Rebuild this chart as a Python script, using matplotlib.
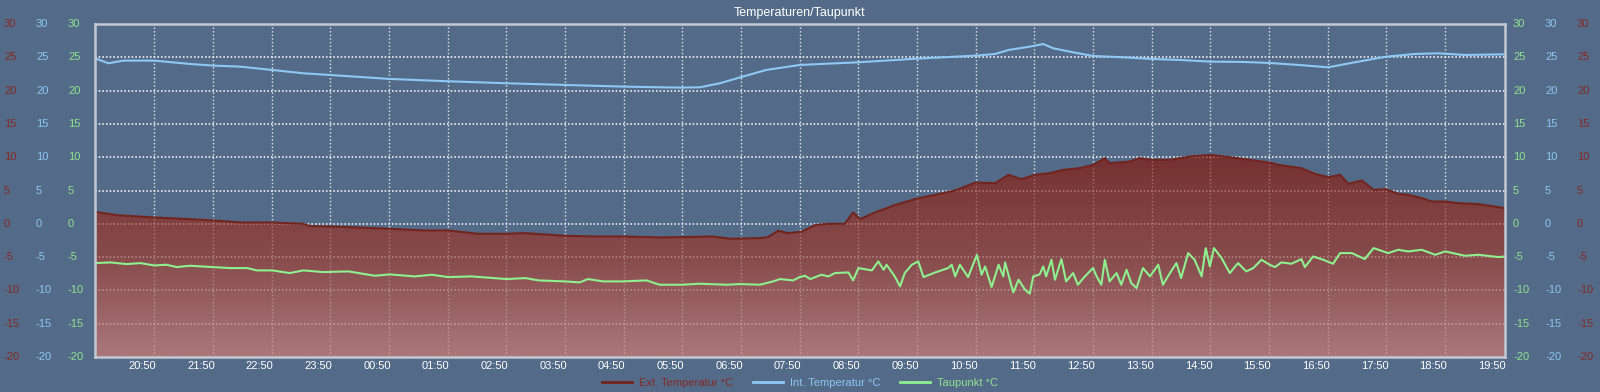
import numpy as np
import matplotlib
matplotlib.use("Agg")
import matplotlib.pyplot as plt
import matplotlib.transforms as mtransforms
from matplotlib.colors import LinearSegmentedColormap, Normalize
from matplotlib.lines import Line2D

# --- data (hours after chart start ~19:49) ---
x_labels = ["20:50", "21:50", "22:50", "23:50", "00:50", "01:50", "02:50", "03:50",
            "04:50", "05:50", "06:50", "07:50", "08:50", "09:50", "10:50", "11:50",
            "12:50", "13:50", "14:50", "15:50", "16:50", "17:50", "18:50", "19:50"]
x_ticks = [1.01 + k for k in range(len(x_labels))]

# Ext. Temperatur
t_ext = [0.0, 0.37, 1.01, 1.62, 2.02, 2.47, 3.02, 3.55, 3.66, 4.0, 4.77, 5.02, 5.62, 6.02,
         6.53, 7.02, 7.33, 8.01, 8.49, 9.0, 9.62, 10.0, 10.53, 10.82, 11.33, 11.47, 11.64,
         11.81, 12.04, 12.27, 12.5, 12.78, 12.92, 13.04, 13.29, 13.63, 14.01, 14.32, 14.66,
         15.01, 15.34, 15.57, 15.79, 16.02, 16.27, 16.5, 16.78, 17.01, 17.21, 17.29, 17.63,
         17.8, 18.02, 18.32, 18.66, 19.01, 19.34, 19.68, 20.02, 20.17, 20.56, 20.79, 21.02,
         21.22, 21.36, 21.59, 21.79, 21.99, 22.21, 22.38, 22.61, 22.78, 23.01, 23.24, 23.58,
         24.03]
v_ext = [1.8, 1.3, 0.95, 0.7, 0.5, 0.2, 0.2, 0.0, -0.35, -0.4, -0.65, -0.75, -1.0, -1.0,
         -1.5, -1.5, -1.4, -1.8, -1.9, -1.9, -2.05, -2.0, -1.9, -2.25, -2.15, -2.0, -1.05,
         -1.4, -1.2, -0.2, 0.0, 0.0, 1.7, 0.7, 1.7, 2.8, 3.8, 4.35, 5.0,
         6.2, 6.1, 7.35, 6.7, 7.35, 7.6, 8.1, 8.35, 8.85, 9.85, 9.1, 9.35,
         9.85, 9.6, 9.6, 10.1, 10.35, 10.0, 9.6, 9.2, 8.85, 8.35, 7.5, 7.0,
         7.35, 6.0, 6.5, 5.1, 5.2, 4.5, 4.35, 3.85, 3.35, 3.35, 3.1, 2.95,
         2.35]

# Int. Temperatur
t_int = [0.0, 0.23, 0.48, 1.01, 1.62, 2.02, 2.47, 3.02, 3.55, 4.0, 5.02, 6.02, 7.02, 8.01,
         9.0, 9.62, 10.0, 10.31, 10.65, 11.0, 11.44, 12.01, 13.01, 14.01, 15.01, 15.34,
         15.57, 15.93, 16.16, 16.33, 16.67, 17.01, 17.52, 18.02, 18.49, 19.01, 19.57, 20.02,
         20.51, 21.02, 21.53, 22.01, 22.5, 22.89, 23.35, 24.03]
v_int = [24.85, 24.1, 24.5, 24.5, 24.0, 23.75, 23.6, 23.1, 22.6, 22.35, 21.75, 21.4, 21.1, 20.85,
         20.6, 20.5, 20.45, 20.5, 21.1, 22.0, 23.1, 23.85, 24.25, 24.8, 25.25, 25.5,
         26.1, 26.6, 27.0, 26.35, 25.75, 25.2, 25.0, 24.75, 24.6, 24.35, 24.3, 24.15,
         23.85, 23.5, 24.35, 25.1, 25.5, 25.6, 25.35, 25.45]

# Taupunkt
t_dew = [0.0, 0.26, 0.54, 0.77, 1.01, 1.22, 1.39, 1.62, 2.02, 2.3, 2.59, 2.76, 3.02, 3.32,
         3.55, 3.89, 4.32, 4.77, 5.02, 5.45, 5.74, 6.02, 6.42, 7.02, 7.33, 7.56, 8.01, 8.26,
         8.4, 8.66, 9.0, 9.4, 9.62, 10.0, 10.31, 10.76, 11.0, 11.33, 11.56, 11.67, 11.9,
         12.01, 12.1, 12.19, 12.38, 12.5, 12.61, 12.84, 12.92, 13.01, 13.24, 13.35, 13.44,
         13.49, 13.63, 13.72, 13.8, 13.92, 14.03, 14.12, 14.32, 14.54, 14.6, 14.66, 14.74,
         14.88, 15.03, 15.11, 15.17, 15.28, 15.4, 15.48, 15.51, 15.65, 15.74, 15.85, 15.93,
         15.99, 16.1, 16.16, 16.21, 16.3, 16.36, 16.47, 16.55, 16.67, 16.75, 16.87, 17.01,
         17.07, 17.15, 17.21, 17.29, 17.41, 17.49, 17.58, 17.66, 17.75, 17.86, 17.98, 18.12,
         18.2, 18.32, 18.43, 18.51, 18.63, 18.74, 18.86, 18.93, 19.0, 19.07, 19.2, 19.34,
         19.48, 19.62, 19.74, 19.88, 20.02, 20.11, 20.22, 20.39, 20.56, 20.62, 20.76, 20.93,
         21.1, 21.22, 21.42, 21.64, 21.79, 22.04, 22.21, 22.38, 22.61, 22.84, 23.01, 23.35,
         23.58, 23.92, 24.03]
v_dew = [-5.9, -5.8, -6.05, -5.9, -6.25, -6.15, -6.5, -6.3, -6.5, -6.65, -6.65, -7.0, -7.0, -7.4,
         -7.0, -7.25, -7.15, -7.8, -7.6, -7.9, -7.65, -8.0, -7.9, -8.3, -8.15, -8.5, -8.65, -8.8,
         -8.3, -8.65, -8.65, -8.5, -9.15, -9.15, -9.0, -9.15, -9.05, -9.15, -8.65, -8.3, -8.5,
         -8.0, -7.8, -8.3, -7.65, -7.9, -7.4, -7.3, -8.5, -6.65, -7.0, -5.65, -6.9,
         -6.15, -7.9, -9.4, -7.4, -6.15, -5.65, -8.0, -7.3, -6.65, -6.15, -7.9, -6.15,
         -8.0, -4.65, -7.65, -6.4, -9.5, -6.15, -7.9, -5.8, -10.3, -8.4, -9.9, -10.5,
         -7.9, -7.6, -6.4, -7.9, -5.4, -8.4, -5.3, -8.65, -7.4, -9.15, -7.9, -6.65,
         -7.9, -9.15, -5.4, -8.65, -7.4, -9.15, -6.9, -8.9, -9.65, -6.65, -7.9, -6.15,
         -9.15, -7.4, -5.9, -8.15, -4.4, -5.4, -7.9, -3.65, -6.4, -3.65, -5.15, -7.4,
         -5.9, -7.15, -6.65, -5.4, -6.15, -6.5, -5.8, -6.0, -5.3, -6.5, -4.9, -5.4,
         -6.0, -4.4, -4.4, -5.3, -3.65, -4.4, -3.9, -4.15, -3.9, -4.65, -4.15, -4.8,
         -4.65, -5.0, -4.9]

y_ticks = list(range(-20, 35, 5))

BG = "#536b88"
RED = "#72251f"
BLUE = "#8ec8f4"
GREEN = "#8ff08f"
RED_TXT = "#842a26"
BLUE_TXT = "#8cc6f0"
GREEN_TXT = "#8fe28f"

plt.rcParams["font.family"] = ["Liberation Sans", "DejaVu Sans"]

fig = plt.figure(figsize=(16, 3.92), dpi=100, facecolor=BG)
ax = fig.add_axes([95 / 1600, 1 - 357 / 392, 1410 / 1600, 333 / 392], facecolor=BG)
ax.set_xlim(0, 24.03)
ax.set_ylim(-20, 30)

# grid: full strength under the fill, faint copy over it
for z, a in [(0.5, 0.9), (1.5, 0.28)]:
    for y in y_ticks[1:-1]:
        ax.axhline(y, color="white", lw=1.1, ls=(0, (1, 1.4)), alpha=a, zorder=z)
    for x in x_ticks[:-1]:
        ax.axvline(x, color="white", lw=1.0, ls=(0, (1, 1.6)), alpha=a * 0.8, zorder=z)

# ext temperature with vertical gradient fill
poly = ax.fill_between(t_ext, v_ext, -20, color="none", lw=0)
cmap = LinearSegmentedColormap.from_list("ext", ["#b8797a", "#8f4744", "#7c2a25"])
grad = np.linspace(-20, 30, 300).reshape(-1, 1)
img = ax.imshow(grad, extent=[0, 24.03, -20, 30], origin="lower", aspect="auto",
                cmap=cmap, norm=Normalize(-20, 10), alpha=0.88, zorder=1)
img.set_clip_path(poly.get_paths()[0], ax.transData)
ax.plot(t_ext, v_ext, color=RED, lw=1.5, zorder=2)

ax.plot(t_int, v_int, color=BLUE, lw=1.5, zorder=3)
ax.plot(t_dew, v_dew, color=GREEN, lw=1.5, zorder=3)

for s in ax.spines.values():
    s.set_color("#c3c9d3")
    s.set_linewidth(1.8)
    s.set_zorder(5)

# x ticks, labels shifted left of gridlines
ax.set_xticks(x_ticks)
ax.set_xticklabels(x_labels)
ax.tick_params(axis="x", length=0, pad=3, labelsize=8, labelcolor="white")
shift = mtransforms.ScaledTranslation(-12 / 100, 0, fig.dpi_scale_trans)
for lab in ax.get_xticklabels():
    lab.set_transform(lab.get_transform() + shift)

# three y scales on each side
ax.set_yticks(y_ticks)
ax.tick_params(axis="y", left=False, labelleft=False)
trans = mtransforms.blended_transform_factory(fig.transFigure, ax.transData)
columns = [(4, RED_TXT), (36, BLUE_TXT), (68, GREEN_TXT),
           (1513, GREEN_TXT), (1545, BLUE_TXT), (1577, RED_TXT)]
for px, col in columns:
    for y in y_ticks:
        ax.text(px / 1600, y, str(y), transform=trans, color=col, fontsize=8,
                ha="left", va="center", clip_on=False)

fig.text(0.5, 1 - 13 / 392, "Temperaturen/Taupunkt", color="white", fontsize=9,
         ha="center", va="center")

handles = [Line2D([], [], color=RED, lw=2), Line2D([], [], color=BLUE, lw=2),
           Line2D([], [], color=GREEN, lw=2)]
fig.legend(handles, ["Ext. Temperatur °C", "Int. Temperatur °C", "Taupunkt °C"],
           loc="center", bbox_to_anchor=(0.5, 1 - 382.5 / 392), ncol=3, frameon=False,
           fontsize=8, handlelength=2.7, handletextpad=0.6, columnspacing=1.8,
           labelcolor=[RED_TXT, BLUE_TXT, GREEN_TXT])

fig.savefig("out.png", dpi=100, facecolor=BG)
